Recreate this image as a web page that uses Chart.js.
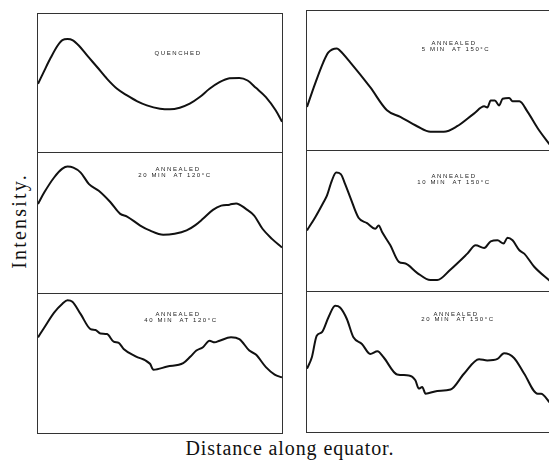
<!DOCTYPE html>
<html>
<head>
<meta charset="utf-8">
<script src="https://cdn.jsdelivr.net/npm/chart.js@4/dist/chart.umd.min.js"></script>
<style>
  body { margin: 0; background: #fff; width: 549px; height: 464px; overflow: hidden; position: relative; }
  .panel { position: absolute; box-sizing: border-box; border: 1px solid #333; }
  .panel canvas { position: absolute; left: 0; top: 0; }
  .tag { position: absolute; font-family: "Liberation Sans", Arial, sans-serif; font-size: 6px; letter-spacing: 1.6px;
         color: #222; white-space: pre; transform: translate(-50%, -50%); line-height: 1; }
  #ylab { position: absolute; left: 19px; top: 221px; transform: translate(-50%, -50%) rotate(-90deg);
          font-family: "Liberation Serif", "DejaVu Serif", serif; font-size: 20px; letter-spacing: 2.2px; color: #111; white-space: nowrap; }
  #xlab { position: absolute; left: 290px; top: 448px; transform: translate(-50%, -50%);
          font-family: "Liberation Serif", "DejaVu Serif", serif; font-size: 20px; letter-spacing: 0.9px; color: #111; white-space: nowrap; }
</style>
</head>
<body>
<div id="ylab">Intensity.</div>
<div id="xlab">Distance along equator.</div>
<script>
// curves, x = % of panel width, y = % of panel height
let quenched = [[0,49.4],[2.6,59],[5.3,68.6],[8,77],[10,81.1],[12.1,81.8],[14.1,81.1],[16.8,77],[20.2,69.8],
  [24.3,61.4],[28.3,53],[32.4,45.8],[36.5,41],[40.5,36.9],[44.6,33.8],[50,31.4],[54.1,30.9],[58.1,32.1],
  [62.2,35],[66.3,39.8],[70.3,45.8],[74.4,50.6],[78.5,53.4],[82.5,53.7],[85.9,51.8],[89.3,46.5],[93.4,39.8],
  [97.4,30.2],[100,22]];

let ann20at120 = [[0,63.6],[2.6,71.9],[6.6,82.5],[10,88.8],[12.1,90.3],[14.5,89.5],[17.5,86],[20.9,77.8],
  [24.9,73],[29.7,64.8],[33.7,56.5],[36.5,54.6],[41.9,48.2],[46,44.5],[51.3,41.6],[56,42.3],[60.9,44.7],
  [64.5,48.5],[67.6,53],[71.7,59.4],[75.1,62.4],[78.5,63.1],[81.2,64],[85.2,60.1],[88.6,55.3],[92,45.9],
  [96,38.5],[100,32.5]];

let ann40at120 = [[0,68.8],[2.6,75.9],[6.6,86.6],[10,93],[12.1,95.5],[14.1,94.5],[17.5,85.5],[21.5,74.8],
  [23.6,74.1],[25.6,71.6],[28.3,71.2],[31,65.7],[33.1,64.8],[35.1,60.5],[40,55.2],[45.9,49.8],[47.3,45.5],
  [53,47.8],[59.5,50.2],[62.5,55],[64.9,59.3],[67.6,61.7],[70.3,66.4],[72.4,65.2],[74.4,66.4],[79.1,68.8],
  [82.5,67.6],[86.6,59.3],[89.3,56.4],[93.4,47.4],[97,42],[100,40]];

let ann5at150 = [[0,31],[3.3,47.6],[6.7,63.1],[8.8,70.2],[12.3,73.1],[13.6,71.4],[17.8,63.1],[26,45.2],
  [32.9,28.6],[38.4,23.8],[45.3,17.1],[50.8,13.1],[56.3,13.1],[61.8,17.1],[68.7,26.2],[72.9,31.4],[74.2,30.5],
  [75.6,35.7],[77.3,35.7],[79.1,32.1],[80.5,36.9],[83.2,37.4],[84.6,35],[87.4,35],[90.8,27.4],[95,15.5],[100,3.6]];

let ann10at150 = [[0,43.3],[3.4,52.7],[6.8,63.4],[8.2,68.1],[10.2,78.7],[12,84.6],[13.9,83.5],[15.7,76.4],
  [17.8,66.9],[21.2,52.3],[24.7,48.5],[28.1,44.5],[29.5,46.8],[30.9,42.1],[34.3,32.6],[37.8,20.8],[40.5,19.6],
  [45.3,13],[50.8,7.8],[53.6,7.8],[59.1,15.4],[66,26.7],[69.4,32.6],[72.9,30.7],[75.6,35.5],[78.4,36.2],
  [80.9,33.9],[82.5,38.1],[84.6,36.2],[87.4,29.1],[89.4,26.7],[93.5,17.3],[100,7.1]];

let ann20at150 = [[0,45.2],[2,53.4],[4,68.8],[6.1,71.2],[8.8,81.8],[11.6,90.1],[13.6,88.9],[16.4,80.7],
  [19.1,67.6],[22.6,62.9],[26,55.8],[29,57.7],[31.5,53.4],[37.1,41.1],[41.9,40.4],[44.6,36.9],[46,31],
  [47.4,32.1],[48.8,27.4],[53.6,29.3],[59.1,30.3],[64.6,41.6],[70.8,52],[74.2,51.1],[78.4,52.2],[81.1,56.2],
  [85.2,52.9],[89.4,41.6],[94.9,27.4],[96.3,27.4],[100,20.8]];

let panelTitles = [
  ['QUENCHED'],
  ['ANNEALED', '20 MIN  AT 120°C'],
  ['ANNEALED', '40 MIN  AT 120°C'],
  ['ANNEALED', '5 MIN  AT 150°C'],
  ['ANNEALED', '10 MIN  AT 150°C'],
  ['ANNEALED', '20 MIN  AT 150°C']
];
let panelCurves = [quenched, ann20at120, ann40at120, ann5at150, ann10at150, ann20at150];

// box placement on the page, and where the little caption sits inside it
let boxes = [
  {left: 37, top: 13, w: 246, h: 140, tag: [[140, 39]]},
  {left: 37, top: 152, w: 246, h: 142, tag: [[140, 16], [137, 21.5]]},
  {left: 37, top: 293, w: 246, h: 141, tag: [[140, 20], [143, 25.5]]},
  {left: 306, top: 10, w: 245, h: 141, tag: [[147, 32], [149, 37.5]]},
  {left: 306, top: 150, w: 245, h: 142, tag: [[147, 25], [147, 30.5]]},
  {left: 306, top: 291, w: 245, h: 142, tag: [[149, 22], [151, 27]]}
];

boxes.forEach((box, i) => {
  let div = document.createElement('div');
  div.className = 'panel';
  div.style.left = box.left + 'px';
  div.style.top = box.top + 'px';
  div.style.width = box.w + 'px';
  div.style.height = box.h + 'px';
  document.body.appendChild(div);

  let canvas = document.createElement('canvas');
  canvas.width = box.w - 2;
  canvas.height = box.h - 2;
  canvas.style.width = (box.w - 2) + 'px';
  canvas.style.height = (box.h - 2) + 'px';
  div.appendChild(canvas);

  panelTitles[i].forEach((line, j) => {
    let tag = document.createElement('div');
    tag.className = 'tag';
    tag.textContent = line;
    tag.style.left = box.tag[j][0] + 'px';
    tag.style.top = box.tag[j][1] + 'px';
    div.appendChild(tag);
  });

  new Chart(canvas.getContext('2d'), {
    type: 'line',
    data: {
      datasets: [{
        data: panelCurves[i].map(p => ({x: p[0], y: p[1]})),
        borderColor: '#111',
        borderWidth: 2,
        pointRadius: 0,
        cubicInterpolationMode: 'monotone',
        clip: false
      }]
    },
    options: {
      responsive: false,
      animation: false,
      events: [],
      layout: { padding: 0 },
      plugins: { legend: { display: false }, tooltip: { enabled: false } },
      scales: {
        x: { type: 'linear', min: 0, max: 100, display: false },
        y: { min: 0, max: 100, display: false }
      }
    }
  });
});
</script>
</body>
</html>
